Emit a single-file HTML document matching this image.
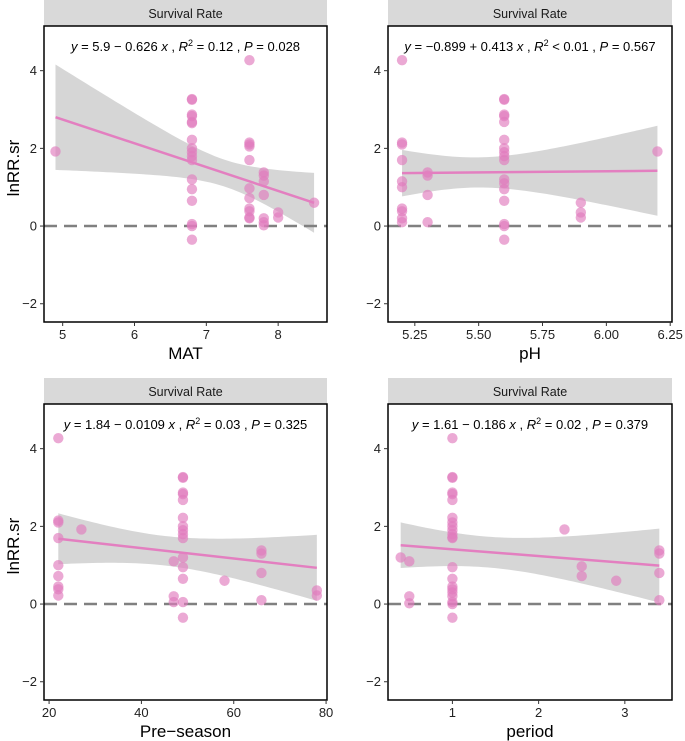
<!DOCTYPE html>
<html><head><meta charset="utf-8"><style>
body{margin:0;background:#fff;font-family:"Liberation Sans",Arial,sans-serif}
svg{display:block}
</style></head><body>
<svg id="c" width="685" height="741"></svg>
<script>
// ---- data ----
const matX=[4.9,6.8,6.8,6.8,6.8,6.8,6.8,6.8,6.8,6.8,6.8,6.8,6.8,6.8,6.8,6.8,6.8,6.8,7.6,7.6,7.6,7.6,7.6,7.6,7.6,7.6,7.6,7.6,7.6,7.8,7.8,7.8,7.8,7.8,7.8,7.8,8.0,8.0,8.5];
const matY=[1.92,3.27,3.25,2.87,2.83,2.68,2.65,2.22,2.0,1.9,1.8,1.7,1.2,0.95,0.65,0.05,0.0,-0.35,4.27,2.15,2.1,2.05,1.7,0.97,0.72,0.45,0.38,0.22,0.2,1.38,1.3,1.15,0.8,0.2,0.1,0.02,0.35,0.22,0.6];
const phX=[5.2,5.2,5.2,5.2,5.2,5.2,5.2,5.2,5.2,5.2,5.3,5.3,5.3,5.3,5.6,5.6,5.6,5.6,5.6,5.6,5.6,5.6,5.6,5.6,5.6,5.6,5.6,5.6,5.6,5.6,5.6,5.9,5.9,5.9,6.2];
const phY=[4.27,2.15,2.1,1.7,1.15,1.0,0.45,0.38,0.2,0.1,1.38,1.3,0.8,0.1,3.27,3.25,2.87,2.83,2.68,2.22,2.0,1.9,1.8,1.7,1.2,0.95,0.65,0.05,0.0,-0.35,1.1,0.6,0.35,0.22,1.92];
const preX=[22,22,22,22,22,22,22,22,22,27,47,47,47,49,49,49,49,49,49,49,49,49,49,49,49,49,49,49,58,66,66,66,66,78,78];
const preY=[4.27,2.15,2.1,1.7,1.0,0.72,0.45,0.38,0.22,1.92,1.1,0.2,0.05,3.27,3.25,2.87,2.83,2.68,2.22,2.0,1.9,1.8,1.7,1.2,0.95,0.65,0.05,-0.35,0.6,1.38,1.3,0.8,0.1,0.35,0.22];
const perX=[0.4,0.5,0.5,0.5,1,1,1,1,1,1,1,1,1,1,1,1,1,1,1,1,1,1,1,1,1,1,2.3,2.5,2.5,2.9,3.4,3.4,3.4,3.4];
const perY=[1.2,1.1,0.2,0.02,4.27,3.27,3.25,2.87,2.83,2.68,2.22,2.1,2.0,1.9,1.8,1.7,0.95,0.65,0.45,0.38,0.3,0.2,0.05,0.0,-0.35,1.72,1.92,0.97,0.72,0.6,1.38,1.3,0.8,0.1];
const yTicks=[-2,0,2,4];
const matTicks=[5,6,7,8], phTicks=[5.25,5.5,5.75,6.0,6.25], preTicks=[20,40,60,80], perTicks=[1,2,3];
const phLabels=["5.25","5.50","5.75","6.00","6.25"];
const labels=[
 ['5.9','\u2212','0.626','0.12','=','0.028'],
 ['\u22120.899','+','0.413','< 0.01','<','0.567'],
 ['1.84','\u2212','0.0109','0.03','=','0.325'],
 ['1.61','\u2212','0.186','0.02','=','0.379']];
const svg=document.getElementById('c');const NS='http://www.w3.org/2000/svg';
function el(t,a,p){const e=document.createElementNS(NS,t);for(const k in a)e.setAttribute(k,a[k]);(p||svg).appendChild(e);return e;}
const panels=[
 {L:44,R:327,T:26,B:322,xs:[4.74,8.68],X:matX,Y:matY,ticks:matTicks,tl:matTicks.map(String),title:'MAT',ylab:true,lab:labels[0],n:'mat'},
 {L:388,R:672,T:26,B:322,xs:[5.145,6.257],X:phX,Y:phY,ticks:phTicks,tl:phLabels,title:'pH',ylab:false,lab:labels[1],n:'ph'},
 {L:44,R:327,T:404,B:700,xs:[18.9,80.2],X:preX,Y:preY,ticks:preTicks,tl:preTicks.map(String),title:'Pre\u2212season',ylab:true,lab:labels[2],n:'preseason'},
 {L:388,R:672,T:404,B:700,xs:[0.253,3.547],X:perX,Y:perY,ticks:perTicks,tl:perTicks.map(String),title:'period',ylab:false,lab:labels[3],n:'period'}];
panels.forEach(p=>{
 const g=el('g',{});
 
 
 const ys=v=>p.T+ (5.15-v)/(5.15+2.47)*(p.B-p.T);
 const xs=v=>p.L+(v-p.xs[0])/(p.xs[1]-p.xs[0])*(p.R-p.L);
 const s=el('rect',{x:p.L,y:p.T-26,width:p.R-p.L,height:26,fill:'#d9d9d9'},g);
 
 const st=el('text',{x:(p.L+p.R)/2,y:p.T-8,'text-anchor':'middle','font-size':'12.5',fill:'#1a1a1a'},g);st.textContent='Survival Rate';
 
 const n=p.X.length,mx=p.X.reduce((a,b)=>a+b)/n,my=p.Y.reduce((a,b)=>a+b)/n;
 let sxx=0,sxy=0;p.X.forEach((x,i)=>{sxx+=(x-mx)**2;sxy+=(x-mx)*(p.Y[i]-my);});
 const b=sxy/sxx,a=my-b*mx;let sse=0;p.X.forEach((x,i)=>{sse+=(p.Y[i]-a-b*x)**2;});
 const se=Math.sqrt(sse/(n-2));const xmin=Math.min(...p.X),xmax=Math.max(...p.X);
 let up=[],lo=[];for(let k=0;k<=60;k++){const x=xmin+(xmax-xmin)*k/60;const f=a+b*x;const w=2.03*se*Math.sqrt(1/n+(x-mx)**2/sxx);up.push(xs(x)+','+ys(f+w));lo.unshift(xs(x)+','+ys(f-w));}
 const band=el('polygon',{points:up.concat(lo).join(' '),fill:'#999',opacity:'0.4'},g);
 
 const zl=el('line',{x1:p.L,x2:p.R,y1:ys(0),y2:ys(0),stroke:'#808080','stroke-width':2.5,'stroke-dasharray':'13,7'},g);
 
 p.X.forEach((x,i)=>{const c=el('circle',{cx:xs(x),cy:ys(p.Y[i]),r:5.2,fill:'#e07bbd',opacity:'0.65'},g);
  });
 const rl=el('line',{x1:xs(xmin),x2:xs(xmax),y1:ys(a+b*xmin),y2:ys(a+b*xmax),stroke:'#e37fc0','stroke-width':2.5},g);
 
 const bx=el('rect',{x:p.L,y:p.T,width:p.R-p.L,height:p.B-p.T,fill:'none',stroke:'#000','stroke-width':1.5},g);
 
 yTicks.forEach(t=>{el('line',{x1:p.L-4,x2:p.L,y1:ys(t),y2:ys(t),stroke:'#333'},g);
  const tx=el('text',{x:p.L-7,y:ys(t)+4.5,'text-anchor':'end','font-size':'13',fill:'#222'},g);tx.textContent=t<0?'\u2212'+(-t):t;
  });
 p.ticks.forEach((t,i)=>{el('line',{x1:xs(t),x2:xs(t),y1:p.B,y2:p.B+4,stroke:'#333'},g);
  const tx=el('text',{x:xs(t),y:p.B+17,'text-anchor':'middle','font-size':'13',fill:'#222'},g);tx.textContent=p.tl[i];
  });
 const xt=el('text',{x:(p.L+p.R)/2,y:p.B+37,'text-anchor':'middle','font-size':'17',fill:'#000'},g);xt.textContent=p.title;
 
 if(p.ylab){const yl=el('text',{x:0,y:0,'text-anchor':'middle','font-size':'17',fill:'#000',transform:`translate(19,${(p.T+p.B)/2-6}) rotate(-90)`},g);yl.textContent='lnRR.sr';
  }
 const L=p.lab;
 const an=el('text',{x:(p.L+p.R)/2,y:p.T+25,'text-anchor':'middle','font-size':'13',fill:'#000'},g);
 an.innerHTML=`<tspan font-style="italic">y</tspan> = ${L[0]} ${L[1]} ${L[2]} <tspan font-style="italic">x</tspan> , <tspan font-style="italic">R</tspan><tspan dy="-5" font-size="9">2</tspan><tspan dy="5"> ${L[3].startsWith('<')?L[3]:'= '+L[3]} , </tspan><tspan font-style="italic">P</tspan> = ${L[5]}`;
 
});
</script>
</body></html>
